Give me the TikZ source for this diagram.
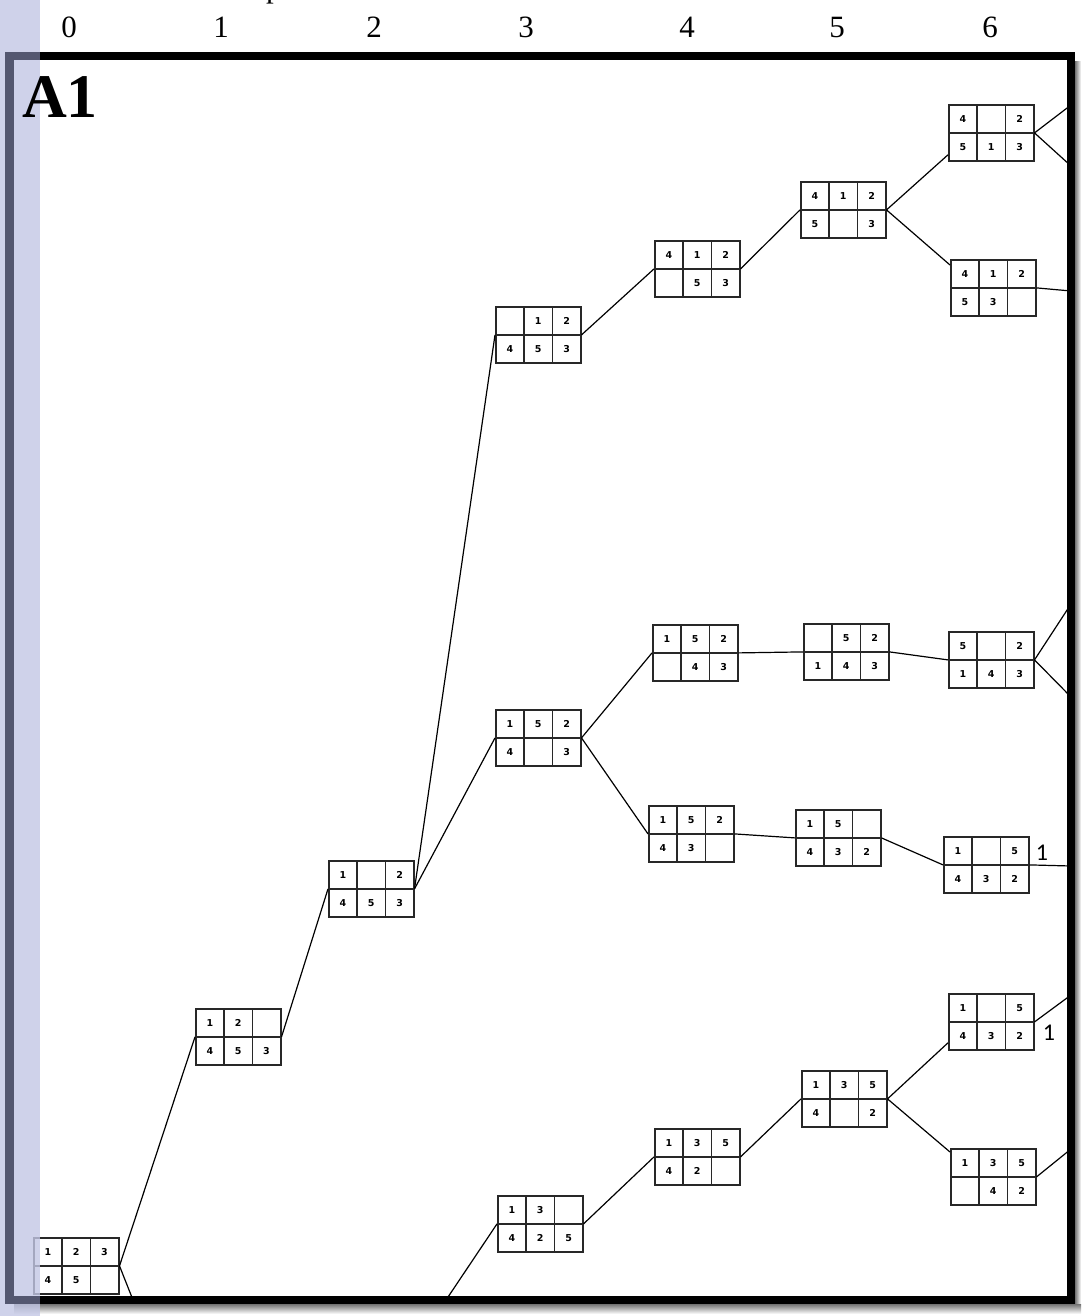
\documentclass[tikz,border=0pt]{standalone}
\usepackage{fontspec}
\setmainfont{Liberation Serif}
\newfontfamily\cellfont{DejaVu Sans}
\newfontfamily\tagfont{Carlito}
\usetikzlibrary{matrix, positioning}
\definecolor{boxgray}{RGB}{40,40,40}
\definecolor{stripblue}{RGB}{195,199,229}
\definecolor{framegray}{RGB}{84,87,112}

\begin{document}
\begin{tikzpicture}[x=1pt, y=-1pt,
    cell/.style={draw=boxgray, line width=1.6pt, minimum width=28.3pt, minimum height=28.1pt,
        inner sep=0pt, outer sep=0pt, anchor=center, font=\cellfont\bfseries\fontsize{9.5}{10}\selectfont},
    board/.style={matrix of nodes, nodes in empty cells, anchor=north west, inner sep=0pt,
        outer sep=0pt, column sep=-1.6pt, row sep=-1.6pt, nodes={cell}},
    link/.style={line width=1.2pt, black},
    tag/.style={font=\tagfont\fontsize{24}{24}\selectfont, inner sep=0pt},
    colnum/.style={font=\fontsize{31}{31}\selectfont, inner sep=0pt}
]
\useasboundingbox (0,0) rectangle (1081,1316);

% Column numbers along the top
\node[colnum, anchor=base west] (cut) at (266,-2) {p};
\foreach \k/\xpos in {0/69,1/221,2/374,3/526,4/687,5/837,6/990}
    \node[colnum] (col\k) at (\xpos,27.5) {\k};

% Boards, level 0 to 2
\matrix (n0) [board] at (33,1237) {1 & 2 & 3 \\ 4 & 5 & \\};
\matrix (n1) [board] at (195,1008) {1 & 2 & \\ 4 & 5 & 3 \\};
\matrix (n2) [board] at (328,860) {1 & & 2 \\ 4 & 5 & 3 \\};

% Level 3
\matrix (n3a) [board] at (495,306) { & 1 & 2 \\ 4 & 5 & 3 \\};
\matrix (n3b) [board] at (495,709) {1 & 5 & 2 \\ 4 & & 3 \\};
\matrix (n3c) [board] at (497,1195) {1 & 3 & \\ 4 & 2 & 5 \\};

% Level 4
\matrix (n4a) [board] at (654,240) {4 & 1 & 2 \\ & 5 & 3 \\};
\matrix (n4b) [board] at (652,624) {1 & 5 & 2 \\ & 4 & 3 \\};
\matrix (n4c) [board] at (648,805) {1 & 5 & 2 \\ 4 & 3 & \\};
\matrix (n4d) [board] at (654,1128) {1 & 3 & 5 \\ 4 & 2 & \\};

% Level 5
\matrix (n5a) [board] at (800,181) {4 & 1 & 2 \\ 5 & & 3 \\};
\matrix (n5b) [board] at (803,623) { & 5 & 2 \\ 1 & 4 & 3 \\};
\matrix (n5c) [board] at (795,809) {1 & 5 & \\ 4 & 3 & 2 \\};
\matrix (n5d) [board] at (801,1070) {1 & 3 & 5 \\ 4 & & 2 \\};

% Level 6
\matrix (n6a) [board] at (948,104) {4 & & 2 \\ 5 & 1 & 3 \\};
\matrix (n6b) [board] at (950,259) {4 & 1 & 2 \\ 5 & 3 & \\};
\matrix (n6c) [board] at (948,631) {5 & & 2 \\ 1 & 4 & 3 \\};
\matrix (n6d) [board] at (943,836) {1 & & 5 \\ 4 & 3 & 2 \\};
\matrix (n6e) [board] at (948,993) {1 & & 5 \\ 4 & 3 & 2 \\};
\matrix (n6f) [board] at (950,1148) {1 & 3 & 5 \\ & 4 & 2 \\};

\node[tag] (t6d) at (1042,853) {1};
\node[tag] (t6e) at (1049,1033) {1};

% Free ends running into the frame
\coordinate (e0) at (133,1300);
\coordinate (e3c) at (446,1300);
\coordinate (e6a1) at (1071,105);
\coordinate (e6a2) at (1071,166);
\coordinate (e6b) at (1071,291);
\coordinate (e6c1) at (1071,604);
\coordinate (e6c2) at (1071,697);
\coordinate (e6d) at (1071,866);
\coordinate (e6e) at (1071,995);
\coordinate (e6f) at (1071,1149);

% Connectors
\draw[link] (n0.east) -- (n1.west);
\draw[link] (n0.east) -- (e0);
\draw[link] (n1.east) -- (n2.west);
\draw[link] (n2.east) -- (n3a.west);
\draw[link] (n2.east) -- (n3b.west);
\draw[link] (e3c) -- (n3c.west);
\draw[link] (n3a.east) -- (n4a.west);
\draw[link] (n4a.east) -- (n5a.west);
\draw[link] (n5a.east) -- ([yshift=7pt]n6a.south west);
\draw[link] (n5a.east) -- ([yshift=-6pt]n6b.north west);
\draw[link] (n6a.east) -- (e6a1);
\draw[link] (n6a.east) -- (e6a2);
\draw[link] (n6b.east) -- (e6b);
\draw[link] (n3b.east) -- (n4b.west);
\draw[link] (n3b.east) -- (n4c.west);
\draw[link] (n4b.east) -- (n5b.west);
\draw[link] (n5b.east) -- (n6c.west);
\draw[link] (n6c.east) -- (e6c1);
\draw[link] (n6c.east) -- (e6c2);
\draw[link] (n4c.east) -- (n5c.west);
\draw[link] (n5c.east) -- (n6d.west);
\draw[link] (n6d.east) -- (e6d);
\draw[link] (n3c.east) -- (n4d.west);
\draw[link] (n4d.east) -- (n5d.west);
\draw[link] (n5d.east) -- ([yshift=8pt]n6e.south west);
\draw[link] (n5d.east) -- ([yshift=-4pt]n6f.north west);
\draw[link] (n6e.east) -- (e6e);
\draw[link] (n6f.east) -- (e6f);

% Frame with its shadow
\shade[left color=black!55, right color=white] (1075,62) rectangle (1081,1312);
\shade[top color=black!55, bottom color=white] (14,1304) rectangle (1081,1314);
\draw[line width=8.5pt] (9.5,56) rectangle (1071,1300);

% Side strip
\fill[stripblue, opacity=0.8] (0,0) rectangle (40,1316);
\fill[framegray] (5,52) rectangle (14,1304);
\fill[framegray] (5,52) rectangle (40,60);
\fill[framegray] (5,1296) rectangle (40,1304);

\node[font=\bfseries\fontsize{62}{62}\selectfont, inner sep=0pt] (title) at (60,97) {A1};
\end{tikzpicture}
\end{document}
